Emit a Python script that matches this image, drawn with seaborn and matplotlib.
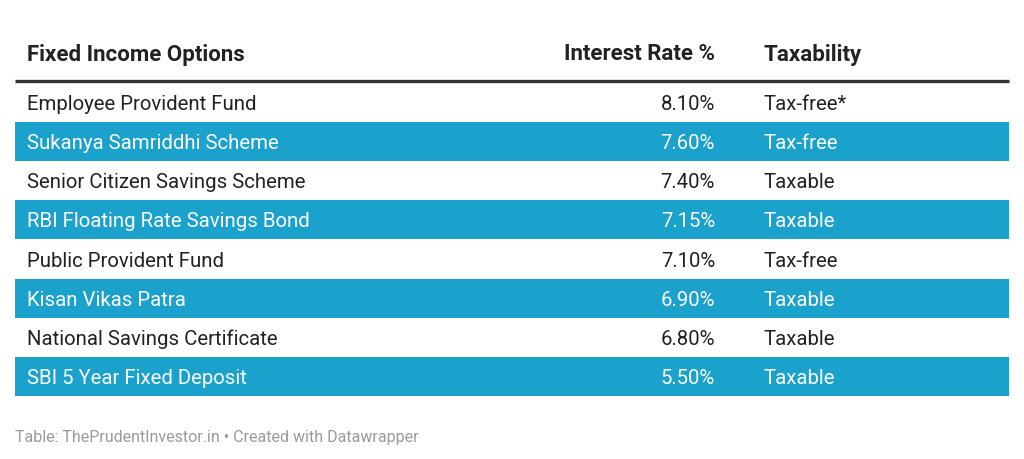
import matplotlib
matplotlib.use("Agg")
import matplotlib.pyplot as plt
import seaborn as sns

options = ["Employee Provident Fund", "Sukanya Samriddhi Scheme", "Senior Citizen Savings Scheme",
           "RBI Floating Rate Savings Bond", "Public Provident Fund", "Kisan Vikas Patra",
           "National Savings Certificate", "SBI 5 Year Fixed Deposit"]
rates = [8.10, 7.60, 7.40, 7.15, 7.10, 6.90, 6.80, 5.50]
taxability = ["Tax-free*", "Tax-free", "Taxable", "Taxable", "Tax-free", "Taxable", "Taxable", "Taxable"]
headers = ["Fixed Income Options", "Interest Rate %", "Taxability"]

sns.set_style("white")
plt.rcParams['font.family'] = ['Roboto', 'DejaVu Sans']

blue = "#1aa1cc"
dark = "#222222"

fig = plt.figure(figsize=(10.24, 4.6), dpi=100)
ax = fig.add_axes([0, 0, 1, 1])
ax.set_xlim(0, 1024)
ax.set_ylim(460, 0)
ax.axis("off")

left, right = 15, 1009
top, row_h = 83.5, 39.2

# header
ax.text(27, 54.5, headers[0], fontsize=16, fontweight="bold", color=dark, va="center")
ax.text(715, 54.5, headers[1], fontsize=16, fontweight="bold", color=dark, va="center", ha="right")
ax.text(763, 54.5, headers[2], fontsize=16, fontweight="bold", color=dark, va="center")
ax.plot([left, right], [81.5, 81.5], color="#333333", lw=2.4, solid_capstyle="butt")

for i, (name, r, t) in enumerate(zip(options, rates, taxability)):
    y0 = top + i * row_h
    yc = y0 + row_h / 2 + 1.2
    c = dark
    if i % 2 == 1:
        ax.fill_between([left, right], y0, y0 + row_h, color=blue, lw=0)
        c = "white"
    ax.text(27, yc, name, fontsize=14.7, color=c, va="center")
    ax.text(715, yc, f"{r:.2f}%", fontsize=14.7, color=c, va="center", ha="right")
    ax.text(763, yc, t, fontsize=14.7, color=c, va="center")

ax.text(15, 437.5, "Table: ThePrudentInvestor.in \u2022 Created with Datawrapper",
        fontsize=11.5, color="#9a9a9a", va="center")

fig.savefig("out.png", dpi=100)
